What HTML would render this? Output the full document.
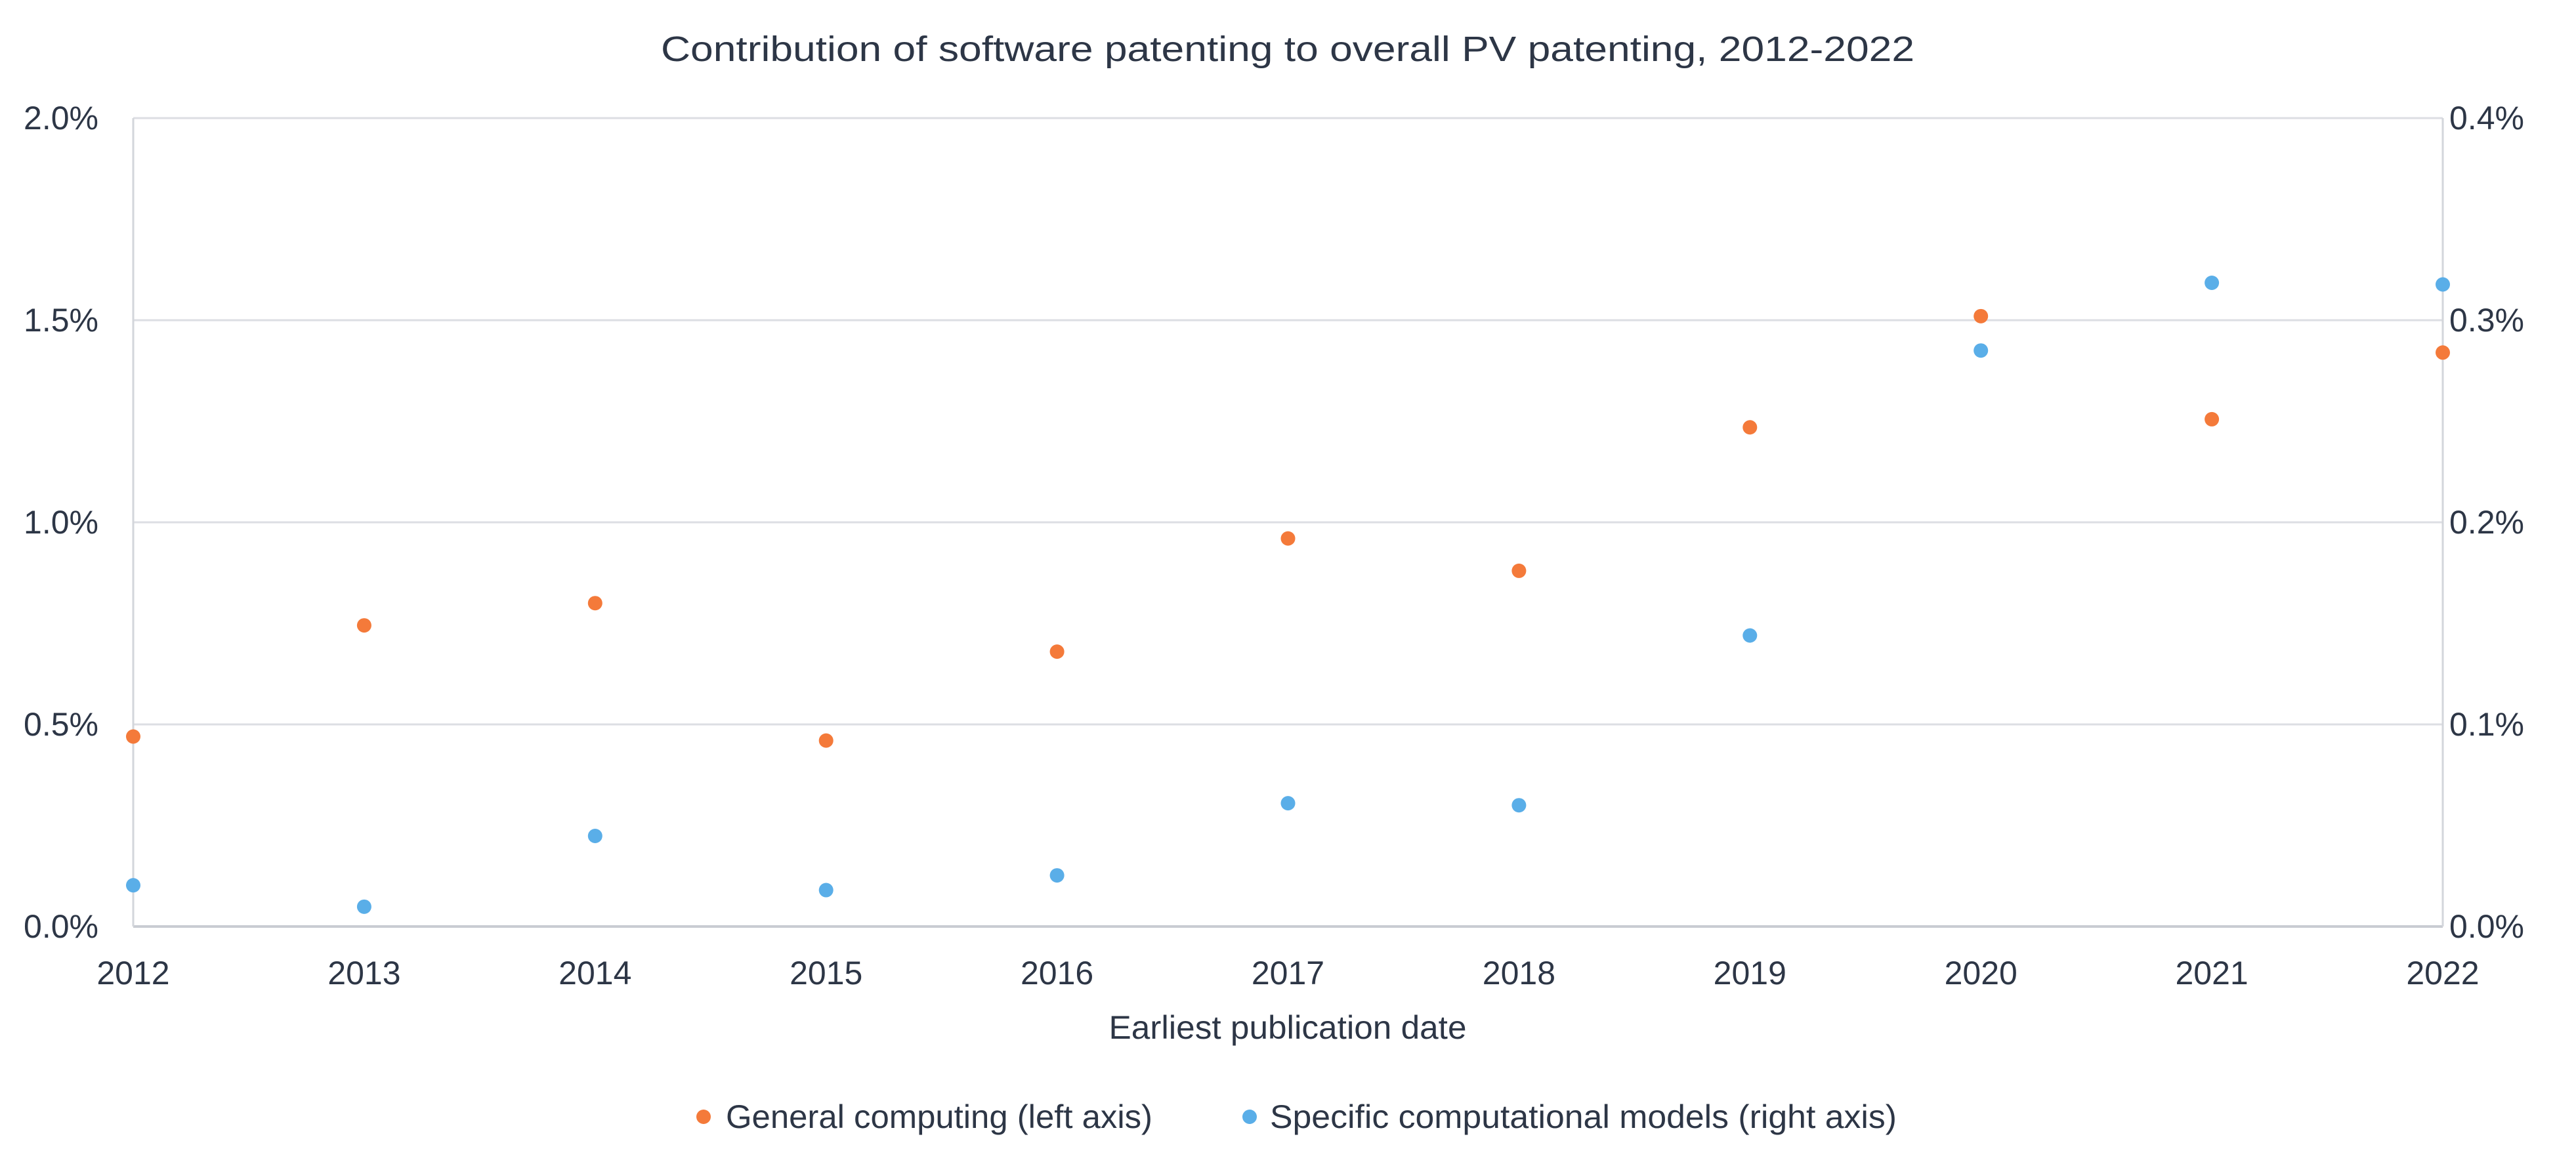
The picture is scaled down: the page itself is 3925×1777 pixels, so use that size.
<!DOCTYPE html>
<html><head><meta charset="utf-8"><style>
html,body{margin:0;padding:0;background:#fff;}
svg{display:block;font-family:"Liberation Sans",sans-serif;}
</style></head><body>
<svg id="chart" width="3925" height="1777" viewBox="0 0 3925 1777" xmlns="http://www.w3.org/2000/svg">
<text x="1962" y="93" text-anchor="middle" font-size="54" fill="#2d3646" textLength="1910" lengthAdjust="spacingAndGlyphs">Contribution of software patenting to overall PV patenting, 2012-2022</text>
<g id="grid"></g><g id="axes"></g><g id="marks"></g>
<text x="1962" y="1583" text-anchor="middle" font-size="50" fill="#2d3646" textLength="545" lengthAdjust="spacingAndGlyphs">Earliest publication date</text>
<g>
<circle cx="1072" cy="1702" r="11" fill="#f47a3a"/>
<text x="1106" y="1719" font-size="50" fill="#2d3646" textLength="650" lengthAdjust="spacingAndGlyphs">General computing (left axis)</text>
<circle cx="1904" cy="1702" r="11" fill="#5aaee8"/>
<text x="1935" y="1719" font-size="50" fill="#2d3646" textLength="955" lengthAdjust="spacingAndGlyphs">Specific computational models (right axis)</text>
</g>
</svg>
<script>
const years = [2012,2013,2014,2015,2016,2017,2018,2019,2020,2021,2022];
const generalComputing = [0.47,0.745,0.80,0.46,0.68,0.96,0.88,1.235,1.51,1.255,1.42];
const specificModels = [0.0204,0.0098,0.0448,0.018,0.0253,0.061,0.060,0.144,0.285,0.3185,0.3177];
const leftTicks = [0,0.5,1.0,1.5,2.0];
const leftTickLabels = ["0.0%","0.5%","1.0%","1.5%","2.0%"];
const rightTicks = [0,0.1,0.2,0.3,0.4];
const rightTickLabels = ["0.0%","0.1%","0.2%","0.3%","0.4%"];

const NS="http://www.w3.org/2000/svg";
const X0=203,X1=3722,Y0=1412,Y1=180;
const xs=i=>X0+(X1-X0)*i/(years.length-1);
const yL=v=>Y0-(Y0-Y1)*v/2.0;
const yR=v=>Y0-(Y0-Y1)*v/0.4;
function mk(tag,attrs,parent){const e=document.createElementNS(NS,tag);for(const k in attrs)e.setAttribute(k,attrs[k]);parent.appendChild(e);return e;}
const grid=document.getElementById('grid'),axes=document.getElementById('axes'),marks=document.getElementById('marks');
leftTicks.forEach((t,i)=>{
  const y=yL(t);
  const l=mk('line',{x1:X0,x2:X1,y1:y,y2:y,stroke:i===0?'#c9ccd2':'#dcdee3','stroke-width':i===0?4:3},grid);
  
  
  const tx=mk('text',{x:150,y:y+17,'text-anchor':'end','font-size':50,fill:'#2d3646'},axes);
  tx.textContent=leftTickLabels[i];
  
  
});
rightTicks.forEach((t,i)=>{
  const tx=mk('text',{x:3732,y:yR(t)+17,'font-size':50,fill:'#2d3646'},axes);
  tx.textContent=rightTickLabels[i];
  
  
});
[X0,X1].forEach(x=>{
  const l=mk('line',{x1:x,x2:x,y1:Y1,y2:Y0,stroke:'#d3d6db','stroke-width':3},grid);
  
  
});
years.forEach((yr,i)=>{
  const tx=mk('text',{x:xs(i),y:1500,'text-anchor':'middle','font-size':50,fill:'#2d3646'},axes);
  tx.textContent=yr;
  
  
});
generalComputing.forEach((v,i)=>{
  const c=mk('circle',{cx:xs(i),cy:yL(v),r:11,fill:'#f47a3a'},marks);
  
  
});
specificModels.forEach((v,i)=>{
  const c=mk('circle',{cx:xs(i),cy:yR(v),r:11,fill:'#5aaee8'},marks);
  
  
});
</script>
</body></html>
